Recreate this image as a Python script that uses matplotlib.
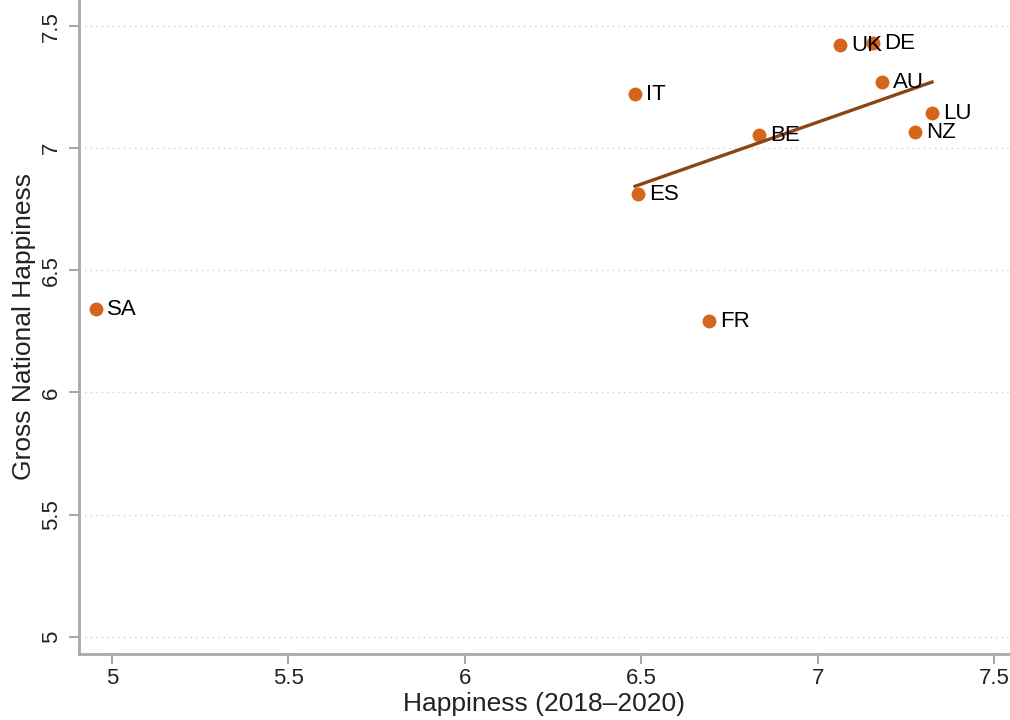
import numpy as np
import matplotlib
matplotlib.use("Agg")
import matplotlib.pyplot as plt

plt.rcParams["font.family"] = ["Liberation Sans", "DejaVu Sans"]

ORANGE, BROWN, GREY, INK = "#d4661b", "#8b4513", "#a8a8a8", "#222222"

codes = ["SA", "IT", "ES", "FR", "BE", "UK", "DE", "AU", "LU", "NZ"]
happiness = [4.955, 6.482, 6.490, 6.691, 6.833, 7.062, 7.156, 7.181, 7.323, 7.275]
gnh = [6.340, 7.221, 6.811, 6.291, 7.053, 7.422, 7.430, 7.270, 7.143, 7.066]
# the fit line leaves out the SA outlier
fit_codes = [c for c in codes if c != "SA"]

x = np.array(happiness); y = np.array(gnh)
m = np.array([c in fit_codes for c in codes])
b1, b0 = np.polyfit(x[m], y[m], 1)
xf = np.array([x[m].min(), x[m].max()])

fig = plt.figure(figsize=(10.1, 7.2), dpi=100)
ax = fig.add_axes([0.078, 0.092, 0.922, 0.908])

ax.set_xlim(4.906, 7.544)
ax.set_ylim(4.930, 7.607)
ax.set_xticks([5, 5.5, 6, 6.5, 7, 7.5])
ax.set_xticklabels(["5", "5.5", "6", "6.5", "7", "7.5"])
ax.set_yticks([5, 5.5, 6, 6.5, 7, 7.5])
ax.set_yticklabels(["5", "5.5", "6", "6.5", "7", "7.5"], rotation=90, va="center")
ax.yaxis.grid(True, ls=(0, (1, 3)), color="#cfcfcf", lw=1)
ax.set_axisbelow(True)

ax.scatter(x, y, s=100, color=ORANGE, zorder=3, linewidths=0)
ax.plot(xf, b0 + b1 * xf, color=BROWN, lw=2.4, zorder=4)
for c, xi, yi in zip(codes, x, y):
    ax.annotate(c, (xi, yi), xytext=(8, 0), textcoords="offset points",
                va="center", ha="left", fontsize=16, color="black", zorder=5)

ax.spines[["top", "right"]].set_visible(False)
for s in ["left", "bottom"]:
    ax.spines[s].set_color(GREY); ax.spines[s].set_linewidth(2)
ax.tick_params(colors=GREY, length=7, width=1.5, labelcolor=INK, labelsize=16)
ax.tick_params(axis="y", pad=5)
ax.set_xlabel("Happiness (2018\u20132020)", fontsize=19, color=INK, labelpad=2)
ax.set_ylabel("Gross National Happiness", fontsize=19, color=INK, labelpad=4)

fig.savefig("out.png", facecolor="white")
